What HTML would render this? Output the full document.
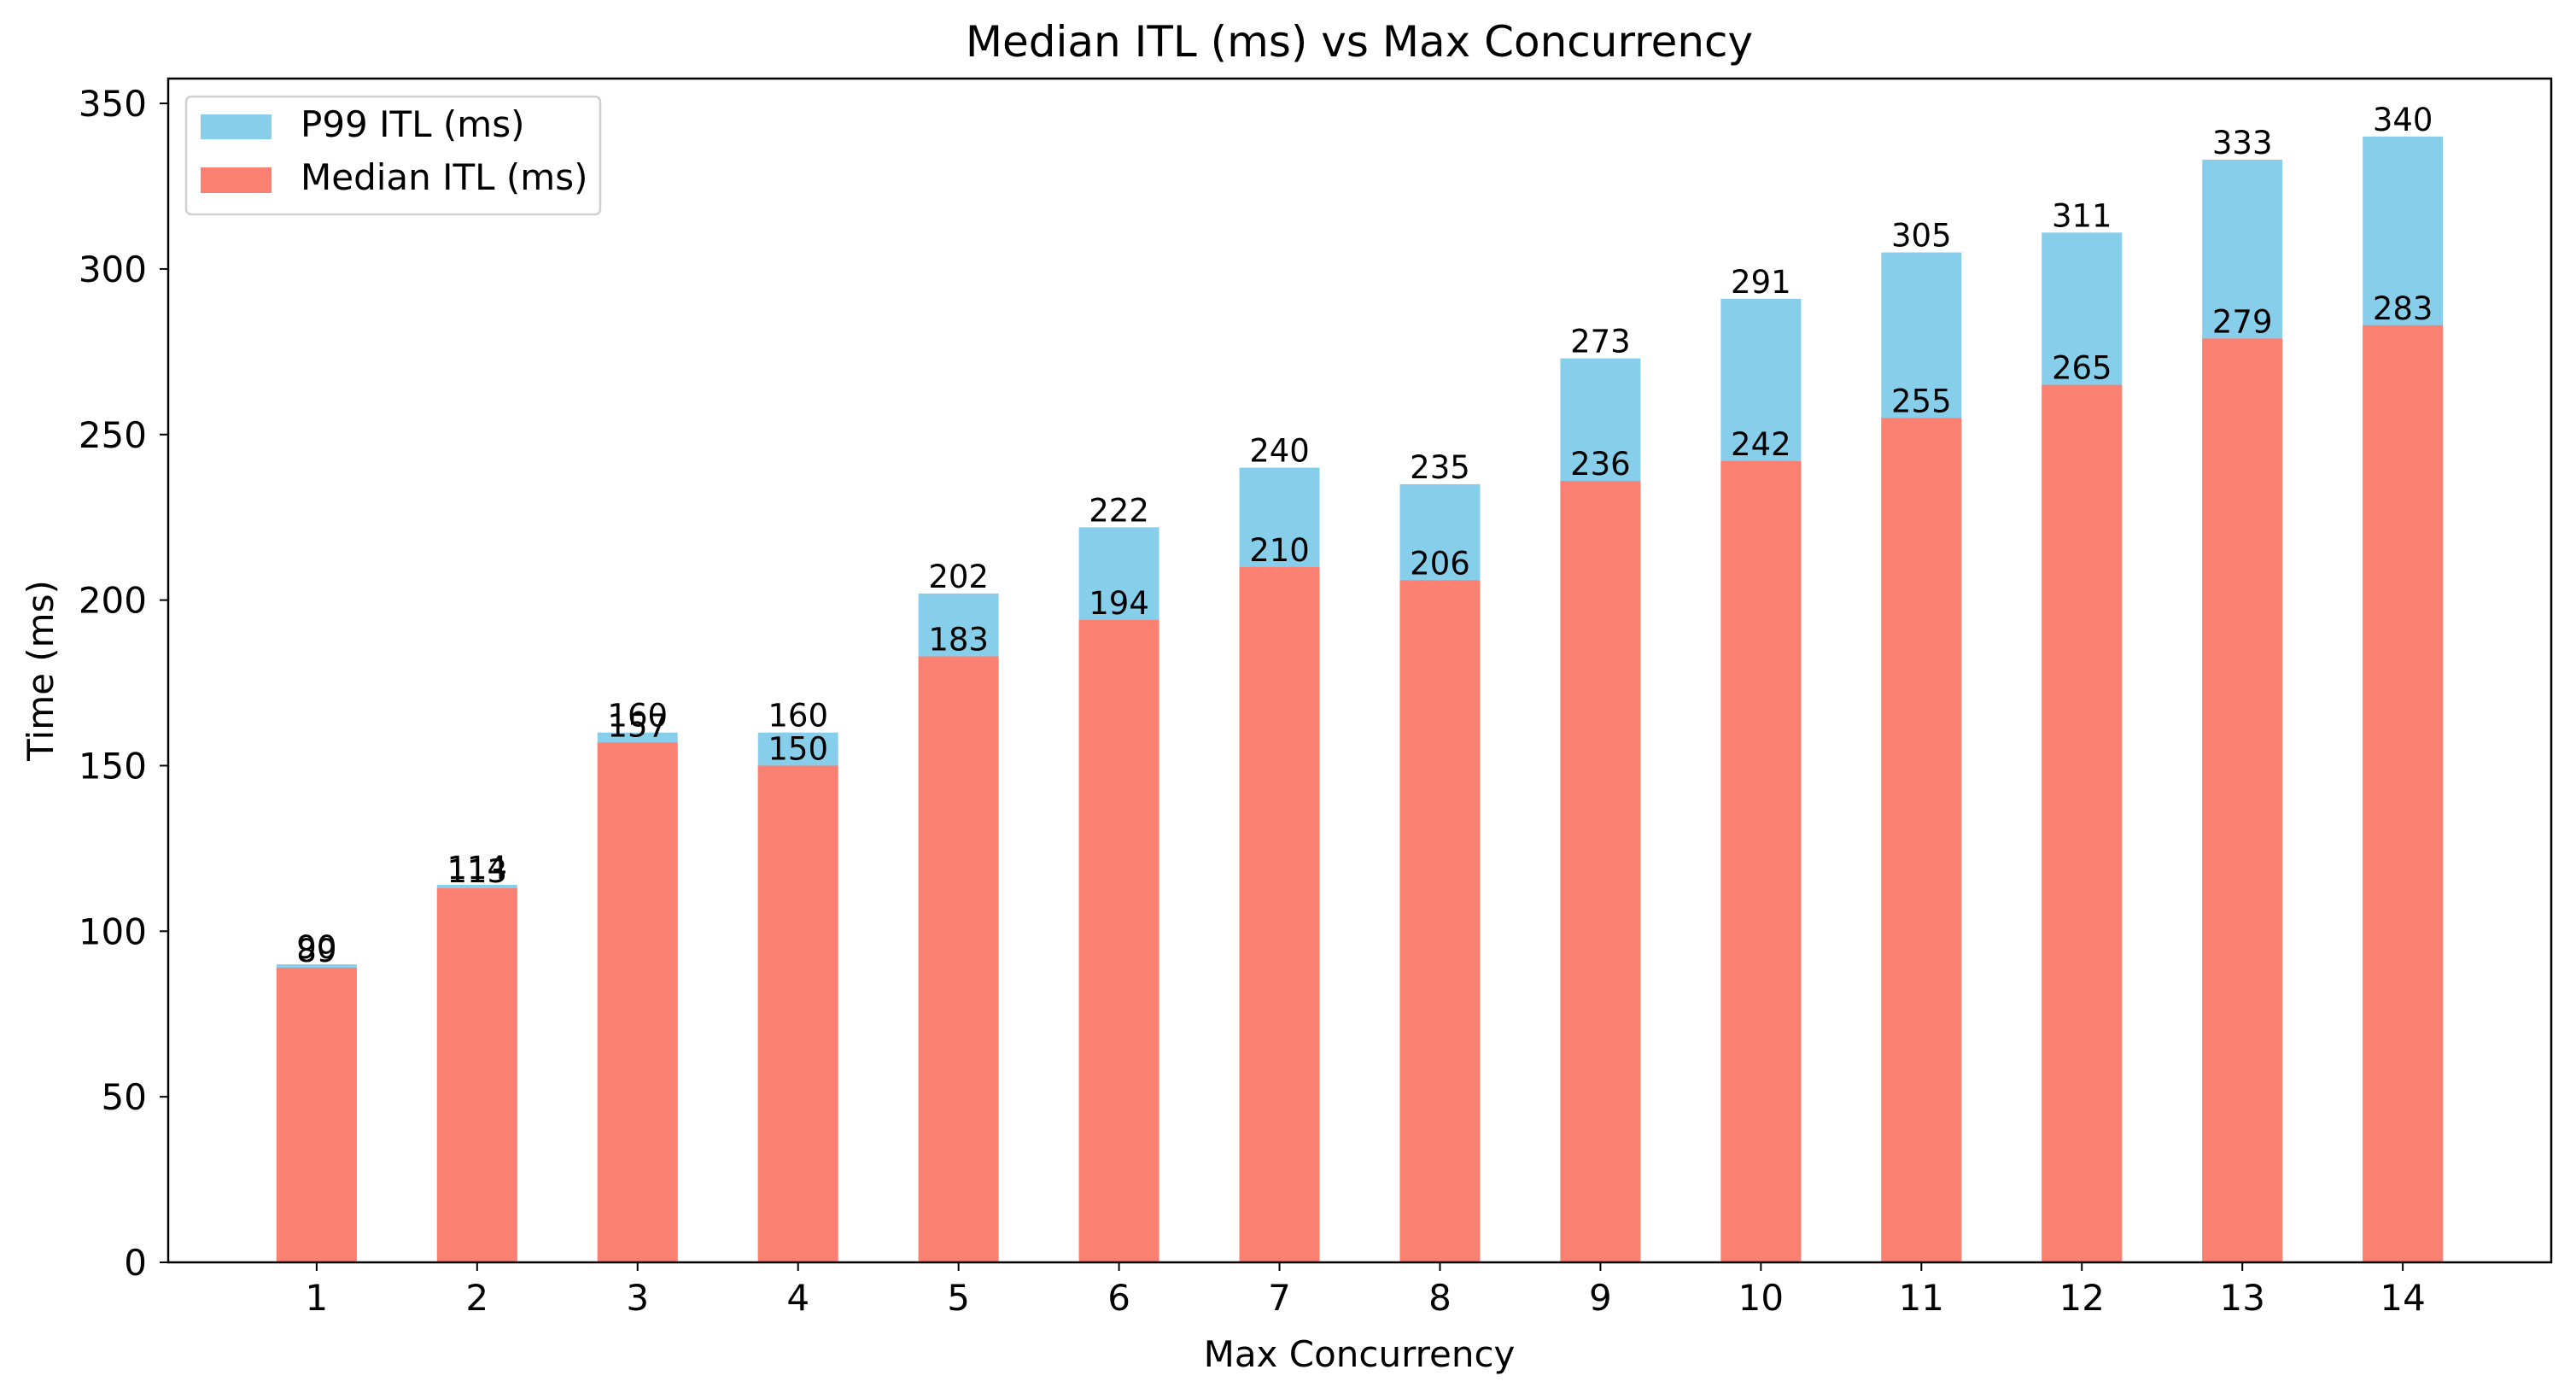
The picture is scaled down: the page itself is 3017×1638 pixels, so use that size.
<!DOCTYPE html>
<html><head><meta charset="utf-8"><style>
html,body{margin:0;padding:0;background:#fff;}
svg{display:block;font-family:"DejaVu Sans","Liberation Sans",sans-serif;}
</style></head><body>
<svg id="chart" width="3017" height="1638" viewBox="0 0 3017 1638">
<rect width="3017" height="1638" fill="#fff"/>
<g id="bars"></g>
<g id="labels"></g>
<g id="axes"></g>
<text x="1592" y="66" font-size="50" text-anchor="middle">Median ITL (ms) vs Max Concurrency</text>
<text x="1592" y="1600" font-size="42" text-anchor="middle">Max Concurrency</text>
<text x="62" y="785" font-size="42" text-anchor="middle" transform="rotate(-90 62 785)">Time (ms)</text>
<g>
<rect x="218" y="113" width="485" height="138" rx="6" fill="#fff" fill-opacity="0.8" stroke="#d0d0d0" stroke-width="2.5"/>
<rect x="235" y="134" width="83" height="29" fill="#87ceeb"/>
<text x="352" y="160" font-size="42">P99 ITL (ms)</text>
<rect x="235" y="196" width="83" height="30" fill="#fa8072"/>
<text x="352" y="222" font-size="42">Median ITL (ms)</text>
</g>
</svg>
<script>
const categories = [1,2,3,4,5,6,7,8,9,10,11,12,13,14];
const p99Values = [90,114,160,160,202,222,240,235,273,291,305,311,333,340];
const medianValues = [89,113,157,150,183,194,210,206,236,242,255,265,279,283];
const yTicks = [0,50,100,150,200,250,300,350];

const NS = "http://www.w3.org/2000/svg";
const plotL = 197, plotR = 2988, plotT = 92, plotB = 1478;
const xMin = 0.075, xMax = 14.925, yMin = 0, yMax = 357.5;
function xs(v){ return plotL + (v - xMin) / (xMax - xMin) * (plotR - plotL); }
function ys(v){ return plotB - (v - yMin) / (yMax - yMin) * (plotB - plotT); }
function mk(tag, attrs, parent){ const e = document.createElementNS(NS, tag); for (const k in attrs) e.setAttribute(k, attrs[k]); parent.appendChild(e); return e; }

const bars = document.getElementById('bars');
const labels = document.getElementById('labels');
const axes = document.getElementById('axes');
const bw = xs(0.5) - xs(0);

categories.forEach((c, i) => {
  const x0 = xs(c) - bw/2;
  const p = mk('rect', {x:x0, y:ys(p99Values[i]), width:bw, height:ys(0)-ys(p99Values[i]), fill:'#87ceeb'}, bars);
  
  
  const m = mk('rect', {x:x0, y:ys(medianValues[i]), width:bw, height:ys(0)-ys(medianValues[i]), fill:'#fa8072'}, bars);
  
  
  const t1 = mk('text', {x:xs(c), y:ys(p99Values[i]) - 7, 'font-size':37, 'text-anchor':'middle'}, labels);
  t1.textContent = String(p99Values[i]);
  
  
  const t2 = mk('text', {x:xs(c), y:ys(medianValues[i]) - 7, 'font-size':37, 'text-anchor':'middle'}, labels);
  t2.textContent = String(medianValues[i]);
  
  
  const tk = mk('line', {x1:xs(c), x2:xs(c), y1:plotB, y2:plotB+10, stroke:'#000', 'stroke-width':2}, axes);
  
  
  const tl = mk('text', {x:xs(c), y:plotB+56, 'font-size':42, 'text-anchor':'middle'}, axes);
  tl.textContent = String(c);
  
  
});

yTicks.forEach(v => {
  const tk = mk('line', {x1:plotL-10, x2:plotL, y1:ys(v), y2:ys(v), stroke:'#000', 'stroke-width':2}, axes);
  
  
  const tl = mk('text', {x:plotL-25, y:ys(v)+15, 'font-size':42, 'text-anchor':'end'}, axes);
  tl.textContent = String(v);
  
  
});

const frame = mk('rect', {x:plotL, y:plotT, width:plotR-plotL, height:plotB-plotT, fill:'none', stroke:'#000', 'stroke-width':2.5}, axes);


</script>
</body></html>
